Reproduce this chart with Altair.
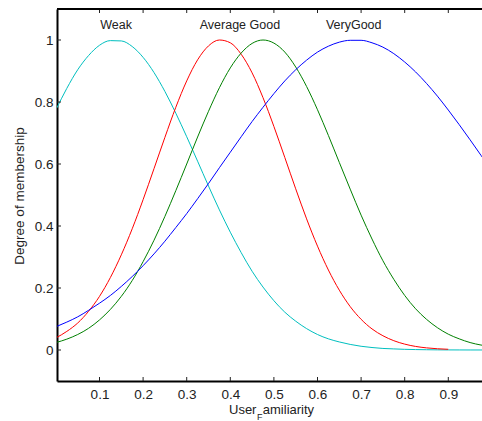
import altair as alt
import pandas as pd

# sample positions along User_Familiarity
xs = [0.0, 0.025, 0.05, 0.075, 0.1, 0.125, 0.15, 0.175, 0.2, 0.225,
      0.25, 0.275, 0.3, 0.325, 0.35, 0.375, 0.4, 0.425, 0.45, 0.475,
      0.5, 0.525, 0.55, 0.575, 0.6, 0.625, 0.65, 0.675, 0.7, 0.725,
      0.75, 0.775, 0.8, 0.825, 0.85, 0.875, 0.9, 0.925, 0.95, 0.975, 1.0]

weak = [0.775, 0.844, 0.904, 0.950, 0.983, 0.998, 0.997, 0.979, 0.944, 0.895,
        0.834, 0.764, 0.688, 0.609, 0.529, 0.452, 0.380, 0.314, 0.254, 0.203,
        0.159, 0.122, 0.093, 0.069, 0.050, 0.036, 0.026, 0.018, 0.012, 0.008,
        0.005, 0.0035, 0.0022, 0.0014, 0.0009, 0.0005, 0.0003, 0.0002, 0.0001, 0.0001, 0.0]

average = [0.039, 0.060, 0.087, 0.125, 0.173, 0.234, 0.307, 0.391, 0.485, 0.585,
           0.686, 0.783, 0.868, 0.936, 0.981, 1.000, 0.991, 0.954, 0.894, 0.814,
           0.721, 0.621, 0.520, 0.423, 0.335, 0.258, 0.193, 0.140, 0.099, 0.068,
           0.046, 0.030, 0.019, 0.0115, 0.0069, 0.0040, 0.0023]

good = [0.024, 0.035, 0.050, 0.070, 0.097, 0.131, 0.173, 0.224, 0.285, 0.354,
        0.431, 0.514, 0.600, 0.687, 0.770, 0.846, 0.910, 0.958, 0.989, 1.000,
        0.990, 0.961, 0.913, 0.850, 0.775, 0.692, 0.605, 0.519, 0.435, 0.358,
        0.288, 0.228, 0.176, 0.133, 0.099, 0.072, 0.051, 0.036, 0.024, 0.016, 0.011]

very_good = [0.075, 0.090, 0.107, 0.128, 0.151, 0.176, 0.205, 0.237, 0.272, 0.310,
             0.351, 0.395, 0.440, 0.488, 0.537, 0.588, 0.638, 0.688, 0.737, 0.783,
             0.827, 0.868, 0.904, 0.935, 0.961, 0.980, 0.993, 0.999, 0.999, 0.991,
             0.977, 0.956, 0.929, 0.897, 0.860, 0.819, 0.774, 0.727, 0.678, 0.628, 0.578]

series_names = ["Weak", "Average", "Good", "VeryGood"]
series_colors = ["#00BFBF", "#FF0000", "#008000", "#0000FF"]

label_text = ["Weak", "Average Good", "VeryGood"]
label_x = [0.138, 0.422, 0.683]
label_y = [1.048, 1.048, 1.048]

x_ticks = [0.1, 0.2, 0.3, 0.4, 0.5, 0.6, 0.7, 0.8, 0.9]
y_ticks = [0, 0.2, 0.4, 0.6, 0.8, 1]

rows = []
for name, vals in zip(series_names, [weak, average, good, very_good]):
    for xv, yv in zip(xs, vals):
        rows.append({"x": xv, "y": yv, "series": name})
df = pd.DataFrame(rows)

W, H = 425, 372
FONT = "Liberation Sans"
xscale = alt.Scale(domain=[0.0025, 0.9773], nice=False, zero=False)
yscale = alt.Scale(domain=[-0.1, 1.1], nice=False, zero=False)

lines = alt.Chart(df).mark_line(strokeWidth=1, clip=True, interpolate="monotone").encode(
    x=alt.X("x:Q", scale=xscale,
            axis=alt.Axis(values=x_ticks, format=".1~f", title=None, grid=False,
                          ticks=False, tickSize=0, labelPadding=6,
                          domainColor="black", domainWidth=2,
                          labelFont=FONT, labelFontSize=13.5, labelColor="#222")),
    y=alt.Y("y:Q", scale=yscale,
            axis=alt.Axis(values=y_ticks, format=".1~f", title=None, grid=False,
                          ticks=False, tickSize=0, labelPadding=4,
                          domainColor="black", domainWidth=2,
                          labelFont=FONT, labelFontSize=13.5, labelColor="#222")),
    color=alt.Color("series:N", scale=alt.Scale(domain=series_names, range=series_colors), legend=None),
    detail="series:N",
)

xt = pd.DataFrame({"t": x_ticks})
yt = pd.DataFrame({"t": y_ticks})

xtick_bottom = alt.Chart(xt).mark_rule(color="#222", strokeWidth=1).encode(
    x=alt.X("t:Q", scale=xscale), y=alt.value(H), y2=alt.value(H - 4))
xtick_top = alt.Chart(xt).mark_rule(color="#222", strokeWidth=1).encode(
    x=alt.X("t:Q", scale=xscale), y=alt.value(0), y2=alt.value(4))
ytick_left = alt.Chart(yt).mark_rule(color="#222", strokeWidth=1).encode(
    y=alt.Y("t:Q", scale=yscale), x=alt.value(0), x2=alt.value(4))
top_line = alt.Chart(pd.DataFrame({"a": [0]})).mark_rule(color="black", strokeWidth=2).encode(
    x=alt.value(0), x2=alt.value(W), y=alt.value(0))

labels = alt.Chart(pd.DataFrame({"text": label_text, "x": label_x, "y": label_y})).mark_text(
    font=FONT, fontSize=12.5, color="#222", align="center", baseline="middle").encode(
    x=alt.X("x:Q", scale=xscale), y=alt.Y("y:Q", scale=yscale), text="text:N")

ytitle = alt.Chart(pd.DataFrame({"t": ["Degree of membership"]})).mark_text(
    font=FONT, fontSize=13.5, color="#222", angle=270, align="center", baseline="middle").encode(
    x=alt.value(-37), y=alt.value(187), text="t:N")

xt1 = alt.Chart(pd.DataFrame({"t": ["User"]})).mark_text(
    font=FONT, fontSize=13, color="#222", align="left", baseline="alphabetic").encode(
    x=alt.value(172), y=alt.value(405), text="t:N")
xt2 = alt.Chart(pd.DataFrame({"t": ["F"]})).mark_text(
    font=FONT, fontSize=9, color="#222", align="left", baseline="alphabetic").encode(
    x=alt.value(200), y=alt.value(411), text="t:N")
xt3 = alt.Chart(pd.DataFrame({"t": ["amiliarity"]})).mark_text(
    font=FONT, fontSize=13, color="#222", align="left", baseline="alphabetic").encode(
    x=alt.value(205.8), y=alt.value(405), text="t:N")

chart = alt.layer(
    lines, xtick_bottom, xtick_top, ytick_left, top_line, labels, ytitle, xt1, xt2, xt3
).properties(
    width=W, height=H,
    autosize=alt.AutoSizeParams(type="none"),
    padding={"left": 57, "top": 9, "right": 0, "bottom": 40},
    background="white",
).configure_view(stroke=None)

chart.save("out.html", embed_options={"renderer": "svg", "actions": False})
